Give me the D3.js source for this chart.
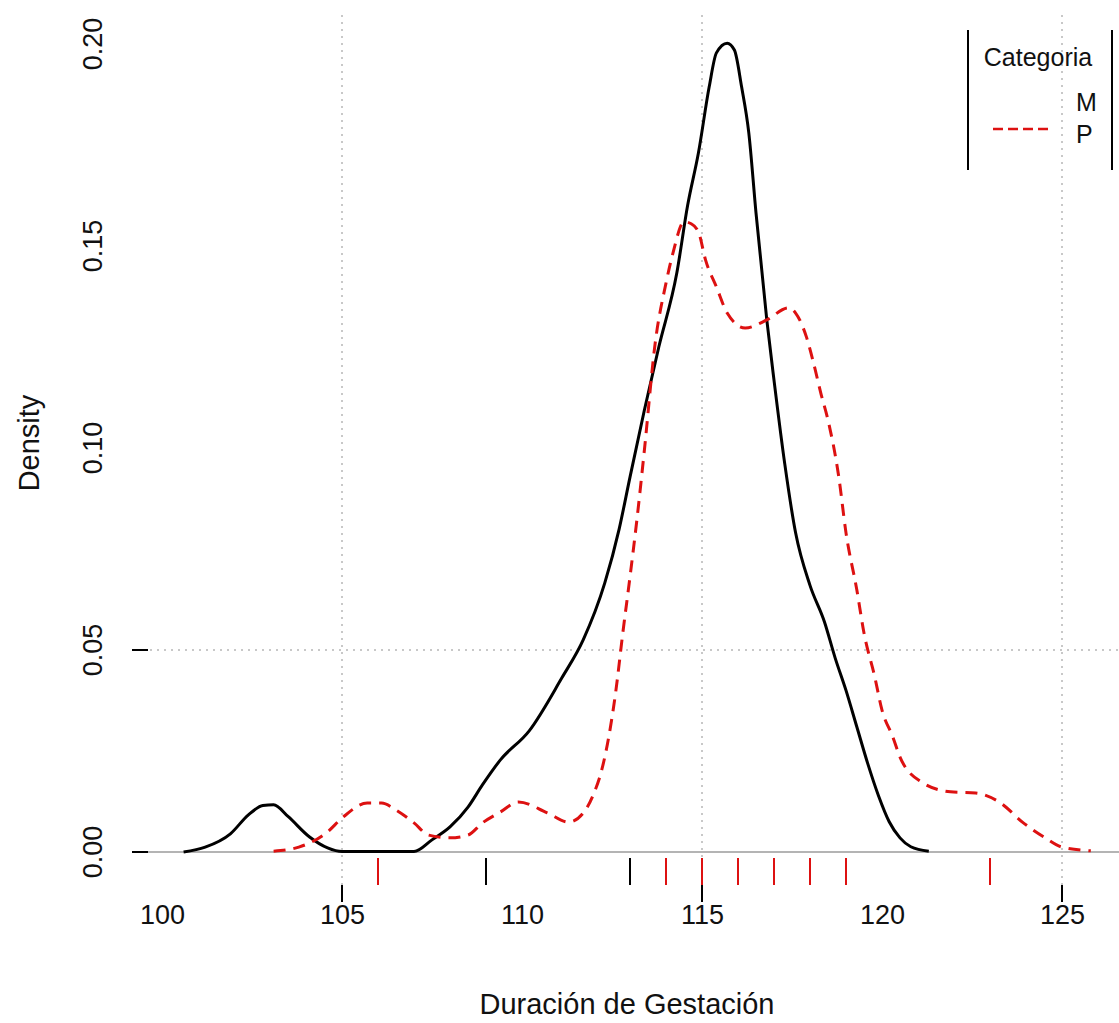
<!DOCTYPE html>
<html>
<head>
<meta charset="utf-8">
<script src="https://cdn.jsdelivr.net/npm/d3@7"></script>
<style>
  body { margin: 0; background: #fff; }
  svg text { font-family: "Liberation Sans", Arial, sans-serif; }
</style>
</head>
<body>
<svg id="chart" width="1119" height="1023"></svg>
<script>
// densidad estimada, categoria M (linea negra)
let densM_x = [100.6, 101.2, 101.9, 102.4, 102.8, 103.1, 103.5, 104.1, 104.6, 105.0, 107.0, 107.5, 108.0, 108.5, 108.9, 109.4, 110.2, 111.1, 111.7, 112.3, 112.7, 113.0, 113.4, 113.8, 114.3, 114.6, 114.9, 115.2, 115.4, 115.7, 115.9, 116.1, 116.3, 116.5, 116.8, 117.0, 117.3, 117.6, 118.0, 118.4, 118.7, 119.0, 119.3, 119.6, 119.9, 120.2, 120.5, 120.8, 121.3];
let densM_y = [0.0000, 0.0012, 0.0045, 0.0092, 0.0115, 0.0117, 0.0088, 0.0037, 0.0010, 0.0001, 0.0001, 0.0030, 0.0062, 0.0111, 0.0166, 0.0228, 0.0300, 0.0430, 0.0525, 0.0666, 0.0800, 0.0928, 0.1094, 0.1250, 0.1433, 0.1600, 0.1730, 0.1894, 0.1978, 0.2002, 0.1985, 0.1894, 0.1780, 0.1582, 0.1317, 0.1168, 0.0960, 0.0790, 0.0660, 0.0570, 0.0480, 0.0400, 0.0310, 0.0220, 0.0140, 0.0075, 0.0035, 0.0013, 0.0002];

// densidad estimada, categoria P (linea roja discontinua)
let densP_x = [103.1, 103.8, 104.6, 105.0, 105.7, 106.1, 106.5, 107.0, 107.4, 108.0, 108.5, 108.9, 109.4, 109.9, 110.7, 111.3, 111.8, 112.0, 112.2, 112.6, 112.8, 113.0, 113.2, 113.4, 113.7, 114.0, 114.2, 114.5, 114.7, 114.9, 115.1, 115.4, 115.7, 116.2, 116.8, 117.4, 117.6, 117.9, 118.1, 118.3, 118.5, 118.8, 119.0, 119.3, 119.5, 119.8, 120.0, 120.3, 120.5, 121.1, 121.9, 122.6, 123.3, 123.9, 124.5, 125.0, 125.8];
let densP_y = [0.0002, 0.0012, 0.0050, 0.0084, 0.0121, 0.0121, 0.0104, 0.0072, 0.0042, 0.0035, 0.0042, 0.0072, 0.0099, 0.0124, 0.0097, 0.0074, 0.0109, 0.0146, 0.0198, 0.0394, 0.0542, 0.0681, 0.0829, 0.0995, 0.1260, 0.1408, 0.1485, 0.1560, 0.1555, 0.1535, 0.1465, 0.1399, 0.1334, 0.1297, 0.1317, 0.1347, 0.1334, 0.1275, 0.1210, 0.1136, 0.1069, 0.0928, 0.0790, 0.0649, 0.0542, 0.0433, 0.0351, 0.0285, 0.0235, 0.0173, 0.0149, 0.0146, 0.0121, 0.0074, 0.0037, 0.0012, 0.0003];

// observaciones (rug)
let rugM = [109, 113];
let rugP = [106, 114, 115, 116, 117, 118, 119, 123];

let xTicks = [100, 105, 110, 115, 120, 125];
let xTickMarks = [105, 115, 125];
let xGrid = [105, 115, 125];
let yTicks = [0, 0.05, 0.10, 0.15, 0.20];
let yTickLabels = ["0.00", "0.05", "0.10", "0.15", "0.20"];
let yTickMarks = [0, 0.05];
let yGrid = [0.05];

let categories = ["M", "P"];
let catColors = ["#000000", "#dd1111"];

let svg = d3.select("#chart");
let x = d3.scaleLinear().domain([100, 125]).range([162, 1062]);
let y = d3.scaleLinear().domain([0, 0.2]).range([852, 44]);
let gridColor = "#c8c8c8";

// rejilla
svg.selectAll(".vgrid").data(xGrid).enter().append("line")
  .attr("x1", d => x(d)).attr("x2", d => x(d))
  .attr("y1", 15).attr("y2", 900)
  .attr("stroke", gridColor).attr("stroke-width", 2)
  .attr("stroke-dasharray", "2,5");
svg.selectAll(".hgrid").data(yGrid).enter().append("line")
  .attr("x1", 150).attr("x2", 1119)
  .attr("y1", d => y(d)).attr("y2", d => y(d))
  .attr("stroke", gridColor).attr("stroke-width", 2)
  .attr("stroke-dasharray", "2,5");

// linea de densidad cero
svg.append("line")
  .attr("x1", 132).attr("x2", 1119)
  .attr("y1", y(0)).attr("y2", y(0))
  .attr("stroke", "#b4b4b4").attr("stroke-width", 2);

// marcas del eje y
svg.selectAll(".ytick").data(yTickMarks).enter().append("line")
  .attr("x1", 132).attr("x2", 148)
  .attr("y1", d => y(d)).attr("y2", d => y(d))
  .attr("stroke", "#000").attr("stroke-width", 2);

svg.selectAll(".ylab").data(yTicks).enter().append("text")
  .attr("transform", d => "translate(102," + y(d) + ") rotate(-90)")
  .attr("text-anchor", "middle")
  .attr("font-size", 27)
  .attr("fill", "#111")
  .text((d, i) => yTickLabels[i]);

// marcas y etiquetas del eje x
svg.selectAll(".xtick").data(xTickMarks).enter().append("line")
  .attr("x1", d => x(d)).attr("x2", d => x(d))
  .attr("y1", 885).attr("y2", 902)
  .attr("stroke", "#000").attr("stroke-width", 2);

let xAxis = d3.axisBottom(x).tickValues(xTicks).tickSize(0).tickPadding(10).tickFormat(d3.format("d"));
let gx = svg.append("g").attr("transform", "translate(0,895)").call(xAxis);
gx.select(".domain").remove();
gx.selectAll("text")
  .attr("font-size", 27)
  .attr("font-family", "Liberation Sans, Arial, sans-serif")
  .attr("fill", "#111");

// titulos de ejes
svg.append("text")
  .attr("x", 627).attr("y", 1014)
  .attr("text-anchor", "middle")
  .attr("font-size", 29)
  .attr("fill", "#111")
  .text("Duración de Gestación");
svg.append("text")
  .attr("transform", "translate(39,443) rotate(-90)")
  .attr("text-anchor", "middle")
  .attr("font-size", 29)
  .attr("fill", "#111")
  .text("Density");

// rug
svg.selectAll(".rugM").data(rugM).enter().append("line")
  .attr("x1", d => x(d)).attr("x2", d => x(d))
  .attr("y1", 858).attr("y2", 885)
  .attr("stroke", catColors[0]).attr("stroke-width", 2);
svg.selectAll(".rugP").data(rugP).enter().append("line")
  .attr("x1", d => x(d)).attr("x2", d => x(d))
  .attr("y1", 858).attr("y2", 885)
  .attr("stroke", catColors[1]).attr("stroke-width", 2);

// curvas de densidad
let line = d3.line()
  .x(d => x(d[0]))
  .y(d => y(d[1]))
  .curve(d3.curveMonotoneX);

svg.append("path")
  .datum(d3.zip(densM_x, densM_y))
  .attr("d", line)
  .attr("fill", "none")
  .attr("stroke", catColors[0])
  .attr("stroke-width", 3);

svg.append("path")
  .datum(d3.zip(densP_x, densP_y))
  .attr("d", line)
  .attr("fill", "none")
  .attr("stroke", catColors[1])
  .attr("stroke-width", 3)
  .attr("stroke-dasharray", "12,8");

// leyenda
let legend = svg.append("g");
legend.append("line").attr("x1", 968).attr("x2", 968).attr("y1", 30).attr("y2", 170)
  .attr("stroke", "#000").attr("stroke-width", 2);
legend.append("line").attr("x1", 1112).attr("x2", 1112).attr("y1", 30).attr("y2", 170)
  .attr("stroke", "#000").attr("stroke-width", 2);
legend.append("text")
  .attr("x", 1038).attr("y", 66)
  .attr("text-anchor", "middle")
  .attr("font-size", 25)
  .attr("fill", "#111")
  .text("Categoria");
legend.selectAll(".legtxt").data(categories).enter().append("text")
  .attr("x", 1076).attr("y", (d, i) => 111 + i * 32)
  .attr("font-size", 25)
  .attr("fill", "#111")
  .text(d => d);
legend.append("line")
  .attr("x1", 993).attr("x2", 1050)
  .attr("y1", 129).attr("y2", 129)
  .attr("stroke", catColors[1]).attr("stroke-width", 2.5)
  .attr("stroke-dasharray", "10,5");
</script>
</body>
</html>
